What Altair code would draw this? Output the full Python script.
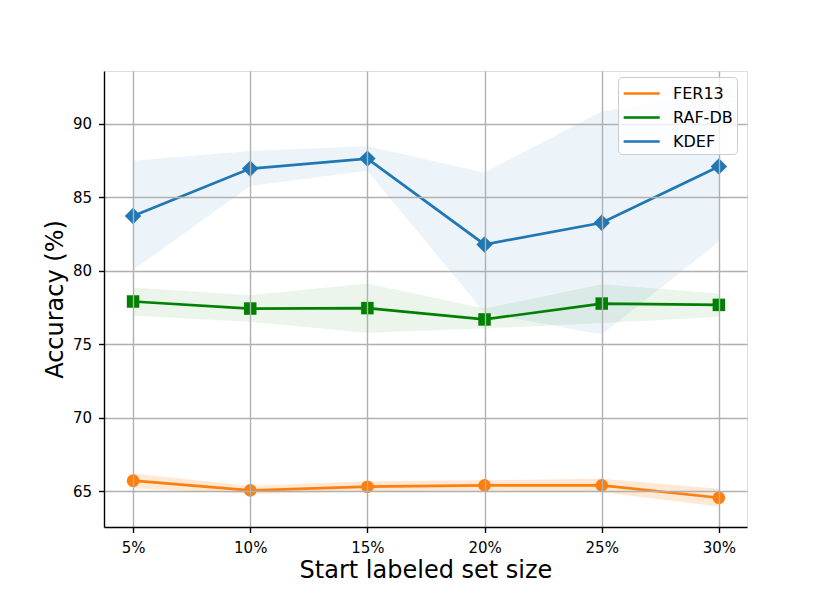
import altair as alt
import pandas as pd

# Data
sizes = [5, 10, 15, 20, 25, 30]
series = ["FER13", "RAF-DB", "KDEF"]
colors = ["#ff7f0e", "#008000", "#1f77b4"]
shapes = ["circle", "square", "diamond"]
marker_sizes = [160, 156, 270]
band_opacity = [0.18, 0.08, 0.08]

fer_mean = [65.73, 65.07, 65.32, 65.41, 65.41, 64.57]
fer_lo = [65.22, 64.84, 65.02, 65.07, 64.95, 63.98]
fer_hi = [66.22, 65.37, 65.69, 65.76, 65.87, 65.19]

raf_mean = [77.92, 77.44, 77.47, 76.70, 77.78, 77.69]
raf_lo = [76.95, 76.54, 75.79, 76.08, 76.46, 76.87]
raf_hi = [78.88, 78.35, 79.14, 77.44, 79.10, 78.46]

kdef_mean = [83.73, 86.96, 87.64, 81.80, 83.28, 87.10]
kdef_lo = [80.05, 85.78, 86.82, 77.15, 75.67, 81.98]
kdef_hi = [87.50, 88.16, 88.48, 86.70, 90.84, 92.20]

rows = []
for name, m, lo, hi in [("FER13", fer_mean, fer_lo, fer_hi),
                        ("RAF-DB", raf_mean, raf_lo, raf_hi),
                        ("KDEF", kdef_mean, kdef_lo, kdef_hi)]:
    for s, a, b, c in zip(sizes, m, lo, hi):
        rows.append({"size": s, "series": name, "acc": a, "lo": b, "hi": c})
df = pd.DataFrame(rows)

FONT = "DejaVu Sans"

x_enc = alt.X("size:Q",
              scale=alt.Scale(domain=[3.76, 31.2], nice=False, zero=False),
              axis=alt.Axis(values=sizes, labelExpr="datum.value + '%'",
                            title="Start labeled set size", titleFontSize=24,
                            titleFontWeight="normal", titleFont=FONT,
                            titleY=50.5, titleBaseline="alphabetic",
                            labelFontSize=15, labelFont=FONT, labelPadding=8,
                            labelColor="black", titleColor="black",
                            tickSize=5.5, tickColor="black", tickWidth=1.4,
                            domainColor="black", domainWidth=1.4,
                            gridColor="#b0b0b0", gridWidth=1.4, zindex=1))
y_scale = alt.Scale(domain=[62.58, 93.6], nice=False, zero=False)
y_enc = alt.Y("acc:Q", scale=y_scale,
              axis=alt.Axis(values=[65, 70, 75, 80, 85, 90],
                            title="Accuracy (%)", titleFontSize=24,
                            titleFontWeight="normal", titleFont=FONT,
                            titleX=-41.5, titleY=228, titleBaseline="alphabetic",
                            labelFontSize=15, labelFont=FONT, labelPadding=7,
                            labelColor="black", titleColor="black",
                            tickSize=5.5, tickColor="black", tickWidth=1.4,
                            domainColor="black", domainWidth=1.4,
                            gridColor="#b0b0b0", gridWidth=1.4, zindex=1))

base = alt.Chart(df)

layers = []
for name, col, op in zip(series, colors, band_opacity):
    layers.append(
        base.transform_filter(alt.datum.series == name).mark_area(
            color=col, opacity=op
        ).encode(x=x_enc, y=alt.Y("lo:Q", scale=y_scale), y2="hi:Q")
    )

layers.append(
    base.mark_line(strokeWidth=2.7).encode(
        x=x_enc,
        y=y_enc,
        color=alt.Color("series:N", scale=alt.Scale(domain=series, range=colors),
                        sort=series,
                        legend=alt.Legend(title=None, orient="none",
                                          legendX=514, legendY=6,
                                          symbolType="M-1,0H2.333", symbolSize=467,
                                          symbolStrokeWidth=2.7,
                                          labelFontSize=16, labelFont=FONT,
                                          labelColor="black", labelOffset=26,
                                          rowPadding=3, padding=4,
                                          fillColor="rgba(255,255,255,0.8)",
                                          strokeColor="#cccccc", cornerRadius=4,
                                          zindex=2)),
    )
)

for name, col, shp, sz in zip(series, colors, shapes, marker_sizes):
    layers.append(
        base.transform_filter(alt.datum.series == name).mark_point(
            filled=True, opacity=1, color=col, shape=shp, size=sz
        ).encode(x=x_enc, y=y_enc)
    )

chart = alt.layer(*layers).properties(
    width=643, height=456,
    autosize=alt.AutoSizeParams(type="none"),
    padding={"left": 96, "top": 63, "right": 60, "bottom": 57},
).configure_view(stroke=None).configure(background="white")

chart.save("out.html", embed_options={"renderer": "svg", "actions": False})
